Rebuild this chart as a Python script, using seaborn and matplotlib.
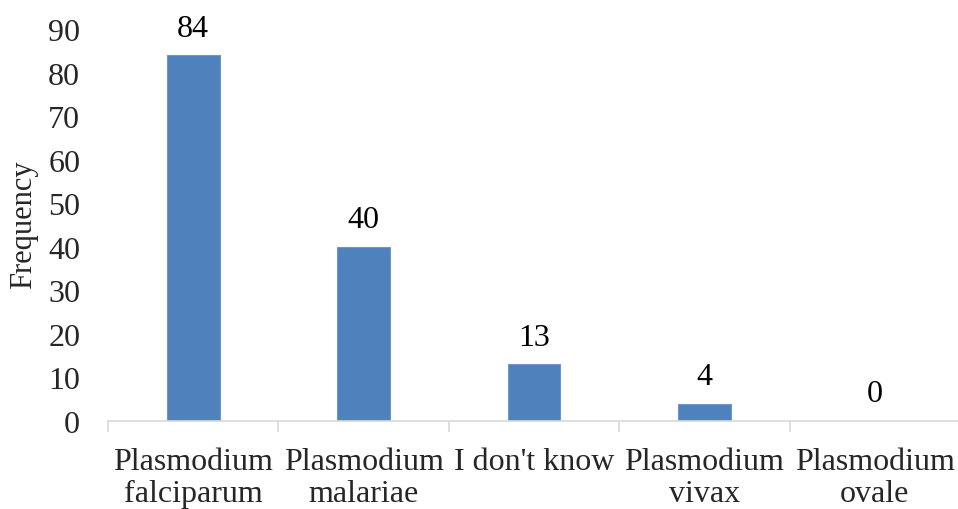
import matplotlib
matplotlib.use("Agg")
import matplotlib.pyplot as plt
import seaborn as sns
import pandas as pd
import numpy as np

categories = ["Plasmodium\nfalciparum", "Plasmodium\nmalariae", "I don't know",
              "Plasmodium\nvivax", "Plasmodium\novale"]
frequency = [84, 40, 13, 4, 0]
y_ticks = [0, 10, 20, 30, 40, 50, 60, 70, 80, 90]

sns.set_theme(style="white")
plt.rcParams["font.family"] = ["Liberation Serif", "DejaVu Serif"]

df = pd.DataFrame({"species": categories, "freq": frequency})

fig = plt.figure(figsize=(9.58, 5.10), dpi=100)
ax = fig.add_axes([108 / 958, 1 - 422 / 510, 1 - 108 / 958 + 0.002, (422 - 30) / 510])

sns.barplot(data=df, x="species", y="freq", color="#4F81BD", saturation=1,
            width=0.31, edgecolor="#6F97CB", linewidth=0.8, ax=ax)

ax.set_ylim(0, 90)
ax.set_xlim(-0.5, 4.5)
ax.set_yticks(y_ticks)
ax.set_yticklabels([str(t) for t in y_ticks], fontsize=23)
ax.tick_params(axis="y", length=0, pad=20)

ax.set_xticks(range(len(categories)))
ax.set_xticklabels(categories, fontsize=23, linespacing=1.12)
ax.tick_params(axis="x", which="major", length=0, pad=19)
ax.set_xticks(np.arange(-0.5, len(categories), 1.0), minor=True)
ax.tick_params(axis="x", which="minor", length=8, width=1.2, color="#D9D9D9",
               direction="out", bottom=True)

for s in ["top", "right", "left"]:
    ax.spines[s].set_visible(False)
ax.spines["bottom"].set_color("#D9D9D9")
ax.spines["bottom"].set_linewidth(1.2)

ax.set_xlabel("")
ax.set_ylabel("Frequency", fontsize=22)
ax.yaxis.set_label_coords((38 - 108) / 850, (422 - 225) / 392)

for i, v in enumerate(frequency):
    ax.annotate(str(v), (i, v), xytext=(0, 9), textcoords="offset points",
                ha="center", va="bottom", fontsize=23, color="black")

fig.savefig("out.png", dpi=100)
